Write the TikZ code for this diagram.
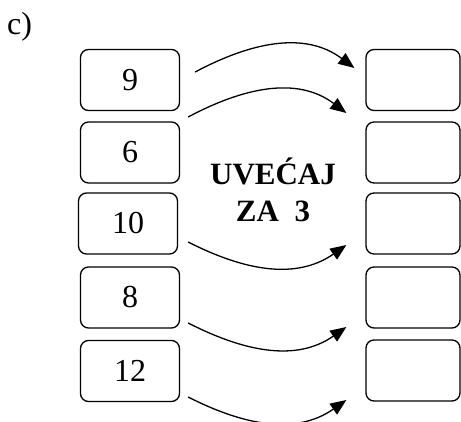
\documentclass[tikz,border=0pt]{standalone}
\usepackage{fontspec}
\setmainfont{Liberation Serif}
\usepackage{tikz}
\usetikzlibrary{arrows.meta}
\tikzset{
    every node/.style={font=\fontsize{32}{38}\selectfont},
    numbox/.style={draw, rounded corners=8pt, line width=1.3pt, minimum width=99pt, minimum height=61pt, inner sep=0pt},
    ansbox/.style={draw, rounded corners=8pt, line width=1.3pt, minimum width=94pt, minimum height=61pt, inner sep=0pt},
    bendarrow/.style={-{Triangle[length=16pt,width=13pt]}, line width=1.3pt}
}

\begin{document}
\begin{tikzpicture}[x=1pt, y=1pt]
        \useasboundingbox (0,0) rectangle (461,421);
        \node[anchor=base west, inner sep=0pt] (part) at (7,386) {c)};

        \node[numbox] (l1) at (130,341) {9};
        \node[numbox] (l2) at (130,268.5) {6};
        \node[numbox] (l3) at (128,197.5) {10};
        \node[numbox] (l4) at (130,123.5) {8};
        \node[numbox] (l5) at (130,50) {12};

        \node[ansbox] (r1) at (413,341) {};
        \node[ansbox] (r2) at (413,268.5) {};
        \node[ansbox] (r3) at (413,197.5) {};
        \node[ansbox] (r4) at (413,123.5) {};
        \node[ansbox] (r5) at (413,50.5) {};

        \node[align=center, inner sep=0pt, font=\fontsize{31}{37}\selectfont\bfseries] (rule) at (273,231) {UVEĆAJ\\ZA\ \ 3};

        \draw[bendarrow] ([shift={(15,8)}]l1.east) to[out=28, in=143] ([shift={(-11,12)}]r1.west);
        \draw[bendarrow] ([shift={(8,35.5)}]l2.east) to[out=28, in=143] ([shift={(-19,39.5)}]r2.west);
        \draw[bendarrow] ([shift={(10,-18.5)}]l3.east) to[out=-27, in=-145] ([shift={(-19,-21.5)}]r3.west);
        \draw[bendarrow] ([shift={(8,-25.5)}]l4.east) to[out=-27, in=-145] ([shift={(-19,-29.5)}]r4.west);
        \draw[bendarrow] ([shift={(8,-26)}]l5.east) to[out=-27, in=-145] ([shift={(-19,-29.5)}]r5.west);
    \end{tikzpicture}
\end{document}
